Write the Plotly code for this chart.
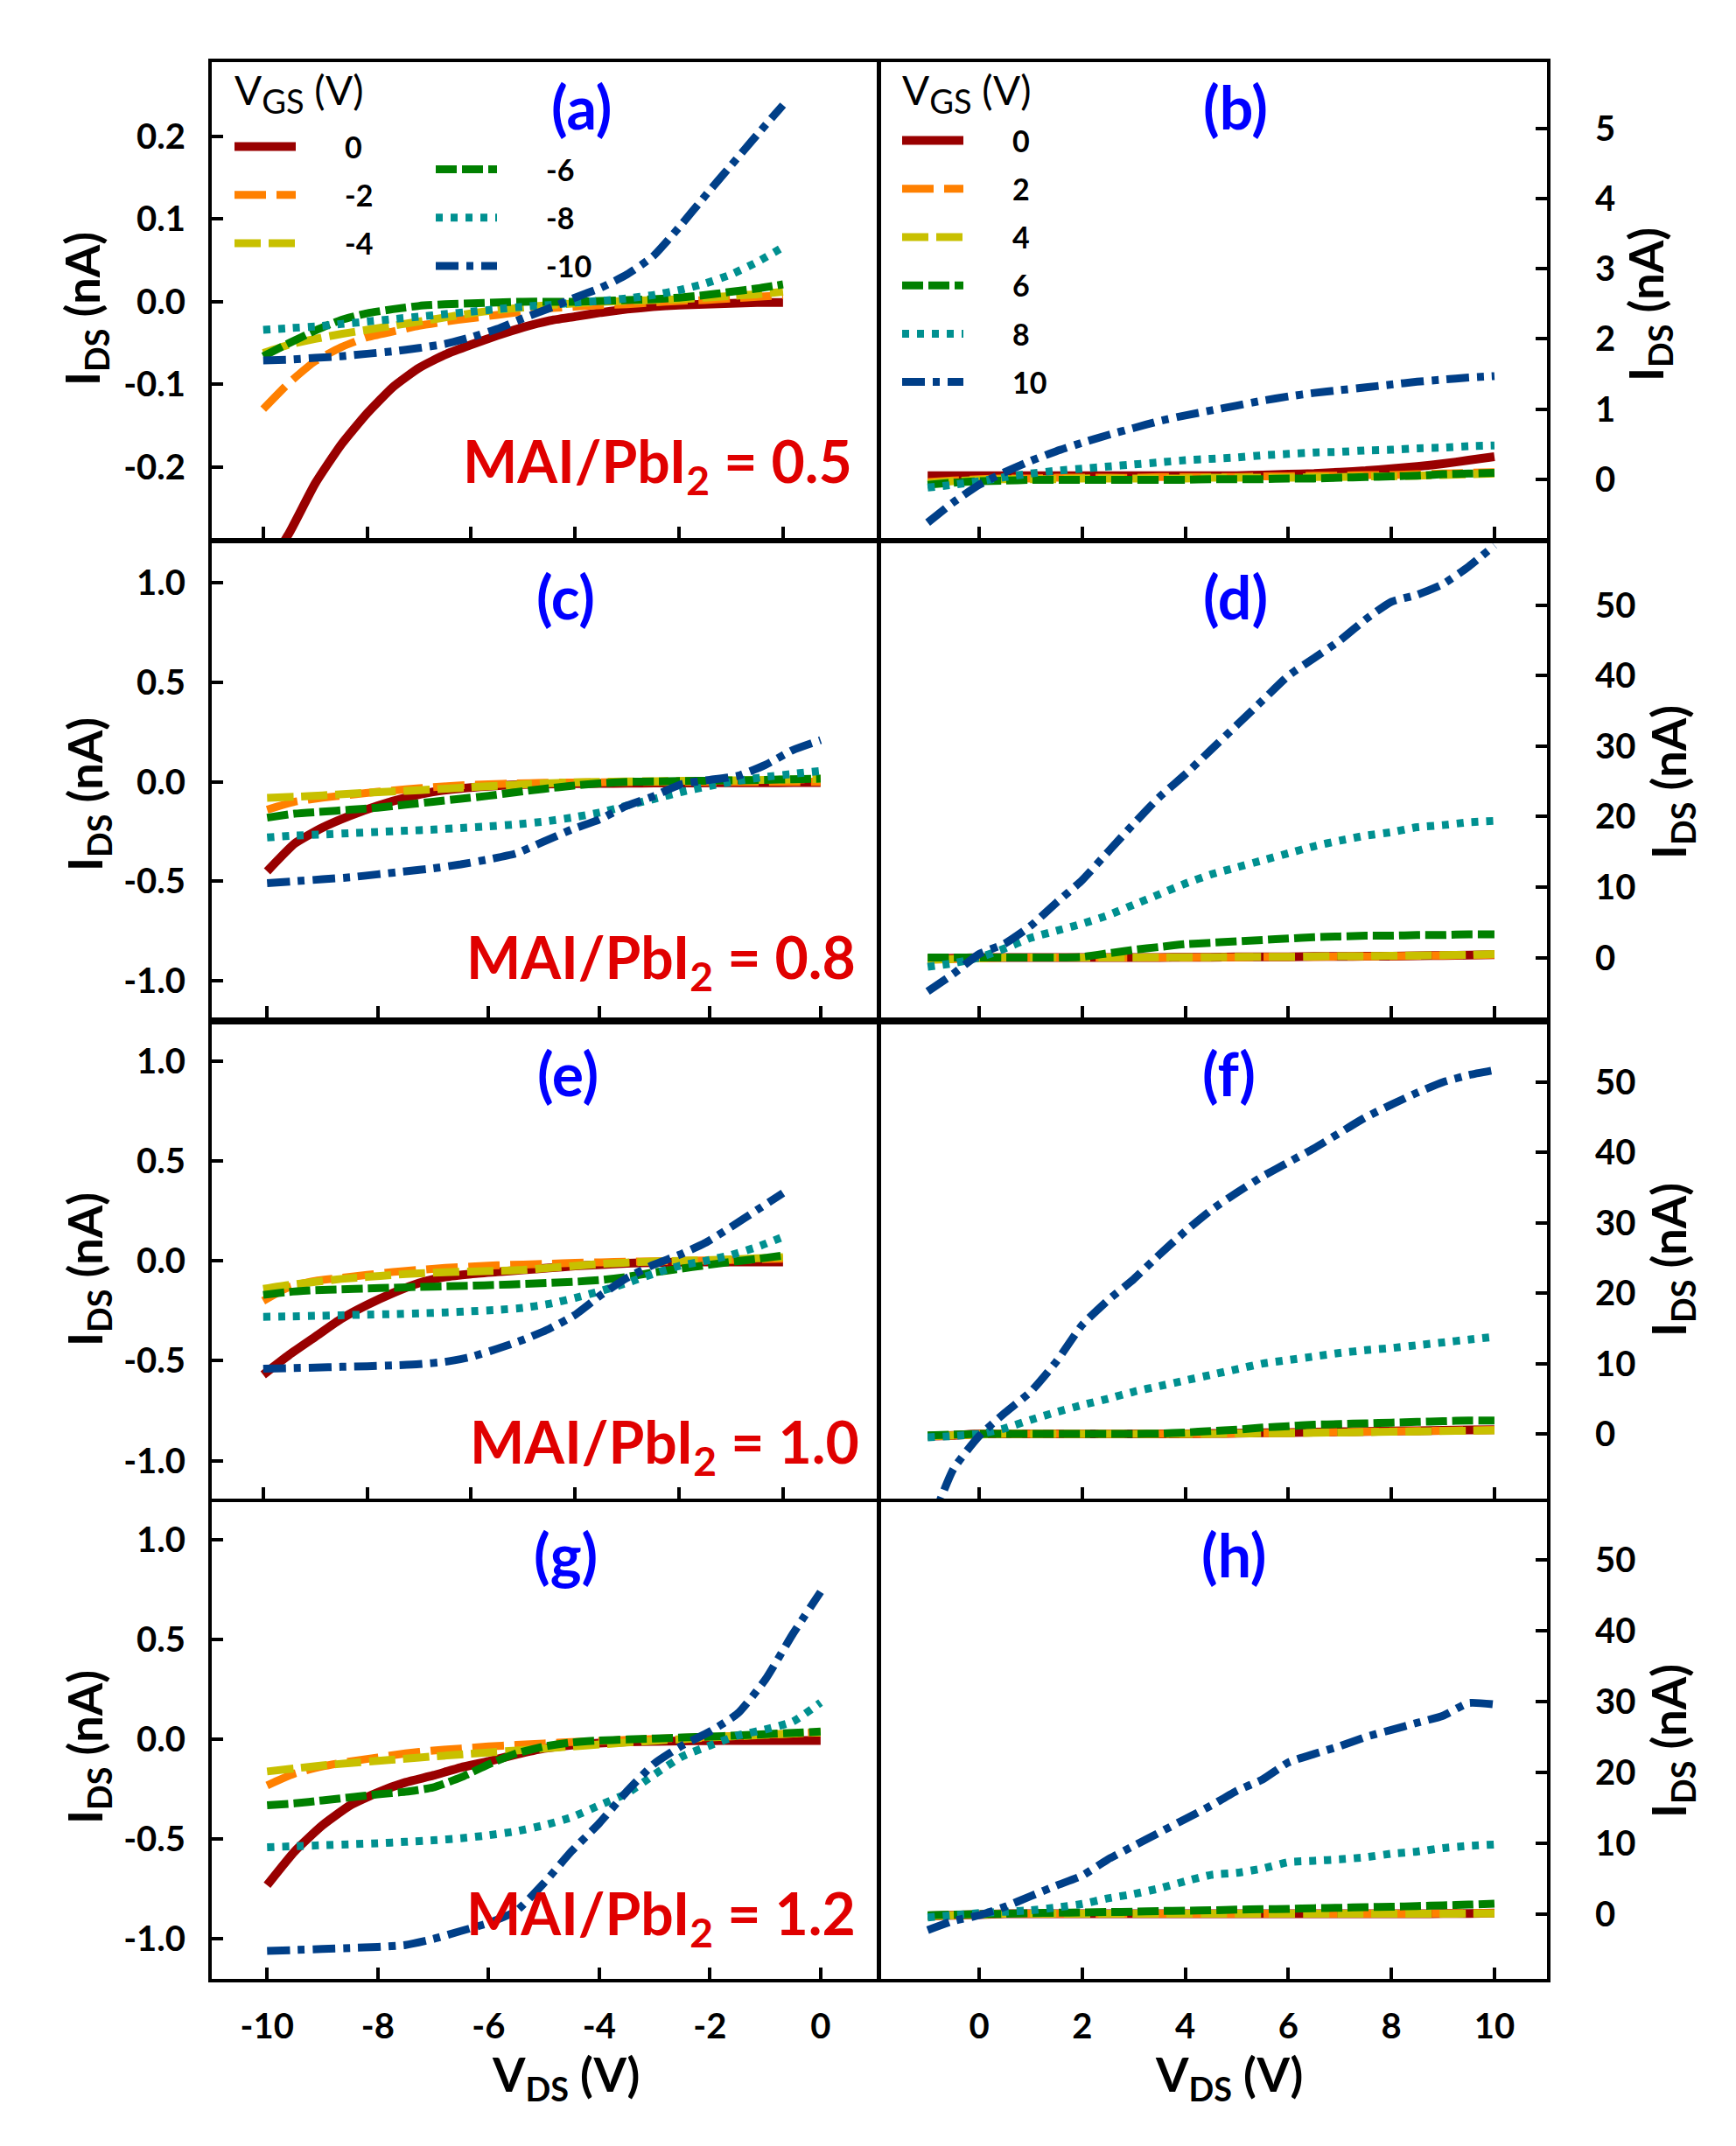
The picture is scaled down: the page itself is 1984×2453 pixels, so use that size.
import plotly.graph_objects as go

# ---------------- data ----------------
VDS_NEG = [-10.0, -9.5, -9.0, -8.5, -8.0, -7.5, -7.0, -6.5, -6.0, -5.5, -5.0,
           -4.5, -4.0, -3.5, -3.0, -2.5, -2.0, -1.5, -1.0, -0.5, 0.0]
VDS_POS = [-1.0, -0.5, 0.0, 0.5, 1.0, 1.5, 2.0, 2.5, 3.0, 3.5, 4.0, 4.5,
           5.0, 5.5, 6.0, 6.5, 7.0, 7.5, 8.0, 8.5, 9.0, 9.5, 10.0]

VGS_NEG_LABELS = ["0", "-2", "-4", "-6", "-8", "-10"]
VGS_POS_LABELS = ["0", "2", "4", "6", "8", "10"]

# (a) MAI/PbI2 = 0.5, negative bias
A_0 = [-0.33, -0.28, -0.22, -0.173, -0.135, -0.103, -0.08, -0.064, -0.052, -0.041, -0.031,
       -0.023, -0.018, -0.013, -0.009, -0.006, -0.004, -0.003, -0.002, -0.001, -0.001]
A_2 = [-0.13, -0.098, -0.072, -0.055, -0.043, -0.036, -0.029, -0.024, -0.02, -0.016, -0.012,
       -0.008, -0.006, -0.004, -0.003, -0.001, 0.001, 0.002, 0.004, 0.006, 0.008]
A_4 = [-0.062, -0.052, -0.045, -0.039, -0.034, -0.029, -0.024, -0.019, -0.014, -0.01, -0.007,
       -0.004, -0.002, 0.0, 0.001, 0.002, 0.003, 0.005, 0.007, 0.009, 0.012]
A_6 = [-0.066, -0.05, -0.035, -0.022, -0.014, -0.009, -0.005, -0.003, -0.002, -0.001, 0.0,
       0.0, 0.0, 0.001, 0.002, 0.003, 0.005, 0.008, 0.012, 0.016, 0.021]
A_8 = [-0.034, -0.032, -0.03, -0.027, -0.024, -0.021, -0.018, -0.015, -0.012, -0.009, -0.006,
       -0.004, -0.001, 0.001, 0.004, 0.008, 0.014, 0.022, 0.033, 0.048, 0.066]
A_10 = [-0.071, -0.07, -0.068, -0.066, -0.063, -0.06, -0.056, -0.051, -0.043, -0.033, -0.02,
        -0.008, 0.005, 0.017, 0.033, 0.055, 0.09, 0.128, 0.165, 0.202, 0.238]

# (b) MAI/PbI2 = 0.5, positive bias
B_0 = [0.05, 0.05, 0.05, 0.05, 0.05, 0.05, 0.05, 0.05, 0.05, 0.05, 0.05, 0.05,
       0.05, 0.06, 0.07, 0.08, 0.1, 0.12, 0.15, 0.18, 0.22, 0.27, 0.32]
B_2 = [-0.04, -0.02, 0.0, 0.01, 0.01, 0.02, 0.02, 0.02, 0.02, 0.03, 0.03, 0.03,
       0.03, 0.04, 0.04, 0.05, 0.05, 0.06, 0.06, 0.07, 0.08, 0.09, 0.1]
B_4 = [-0.06, -0.03, -0.01, 0.0, 0.0, 0.0, 0.01, 0.01, 0.01, 0.01, 0.01, 0.02,
       0.02, 0.02, 0.02, 0.03, 0.03, 0.04, 0.04, 0.05, 0.06, 0.07, 0.08]
B_6 = [-0.08, -0.05, -0.03, -0.02, -0.01, -0.01, -0.01, -0.01, -0.01, -0.01, -0.01, 0.0,
       0.0, 0.0, 0.01, 0.01, 0.02, 0.03, 0.04, 0.05, 0.07, 0.08, 0.09]
B_8 = [-0.12, -0.08, -0.03, 0.03, 0.08, 0.12, 0.15, 0.18, 0.21, 0.24, 0.27, 0.29,
       0.31, 0.34, 0.36, 0.38, 0.39, 0.41, 0.42, 0.44, 0.45, 0.47, 0.48]
B_10 = [-0.62, -0.33, -0.08, 0.1, 0.26, 0.4, 0.52, 0.63, 0.73, 0.83, 0.91, 0.98,
        1.05, 1.12, 1.18, 1.23, 1.27, 1.31, 1.35, 1.39, 1.42, 1.45, 1.47]

# (c) MAI/PbI2 = 0.8, negative bias
C_0 = [-0.45, -0.31, -0.23, -0.17, -0.12, -0.08, -0.05, -0.033, -0.022, -0.015, -0.011,
       -0.009, -0.008, -0.007, -0.006, -0.006, -0.005, -0.005, -0.005, -0.004, -0.004]
C_2 = [-0.14, -0.1, -0.08, -0.065, -0.05, -0.038, -0.027, -0.018, -0.012, -0.008, -0.005,
       -0.003, -0.002, -0.001, 0.0, 0.0, 0.0, 0.0, 0.0, 0.0, 0.0]
C_4 = [-0.08, -0.075, -0.068, -0.06, -0.052, -0.045, -0.038, -0.03, -0.022, -0.015, -0.008,
       -0.003, 0.0, 0.002, 0.003, 0.005, 0.006, 0.008, 0.01, 0.012, 0.015]
C_6 = [-0.18, -0.16, -0.15, -0.14, -0.13, -0.115, -0.1, -0.085, -0.07, -0.052, -0.035,
       -0.02, -0.008, 0.0, 0.002, 0.004, 0.006, 0.008, 0.01, 0.013, 0.016]
C_8 = [-0.28, -0.27, -0.265, -0.258, -0.252, -0.246, -0.24, -0.232, -0.224, -0.214, -0.2,
       -0.18, -0.155, -0.12, -0.085, -0.05, -0.02, 0.005, 0.025, 0.04, 0.055]
C_10 = [-0.51, -0.5, -0.49, -0.48, -0.465, -0.45, -0.435, -0.415, -0.39, -0.36, -0.3,
        -0.24, -0.19, -0.12, -0.07, -0.01, 0.01, 0.03, 0.085, 0.16, 0.21]

# (d) MAI/PbI2 = 0.8, positive bias
D_0 = [-0.2, -0.1, 0.0, 0.0, 0.0, 0.0, 0.0, 0.0, 0.0, 0.0, 0.05, 0.05,
       0.1, 0.1, 0.1, 0.15, 0.15, 0.2, 0.2, 0.25, 0.3, 0.35, 0.4]
D_2 = [-0.3, -0.2, -0.1, 0.0, 0.0, 0.0, 0.0, 0.0, 0.0, 0.0, 0.0, 0.05,
       0.05, 0.1, 0.1, 0.1, 0.15, 0.15, 0.2, 0.25, 0.3, 0.35, 0.4]
D_4 = [-0.3, -0.2, -0.1, 0.0, 0.0, 0.0, 0.0, 0.0, 0.0, 0.05, 0.05, 0.05,
       0.1, 0.1, 0.1, 0.15, 0.2, 0.2, 0.25, 0.3, 0.35, 0.4, 0.5]
D_6 = [0.0, 0.0, 0.0, 0.0, 0.0, 0.0, 0.1, 0.6, 1.1, 1.5, 1.9, 2.1,
       2.3, 2.5, 2.7, 2.9, 3.0, 3.1, 3.1, 3.2, 3.2, 3.3, 3.3]
D_8 = [-1.3, -0.8, 0.0, 1.3, 2.8, 3.8, 4.8, 6.0, 7.5, 9.0, 10.5, 11.8,
       12.8, 13.8, 14.8, 15.8, 16.6, 17.3, 17.8, 18.5, 18.8, 19.2, 19.4]
D_10 = [-4.8, -2.3, 0.5, 2.0, 4.5, 7.8, 11.0, 15.0, 19.0, 22.8, 26.0, 29.5,
        33.0, 36.5, 40.0, 42.5, 45.0, 48.0, 50.5, 51.5, 53.0, 55.5, 58.5]

# (e) MAI/PbI2 = 1.0, negative bias
E_0 = [-0.57, -0.47, -0.38, -0.29, -0.22, -0.16, -0.11, -0.08, -0.065, -0.055, -0.045,
       -0.035, -0.025, -0.018, -0.012, -0.008, -0.006, -0.005, -0.005, -0.005, -0.005]
E_2 = [-0.2, -0.13, -0.1, -0.085, -0.07, -0.055, -0.045, -0.035, -0.028, -0.022, -0.018,
       -0.014, -0.01, -0.007, -0.004, -0.002, 0.0, 0.002, 0.005, 0.008, 0.011]
E_4 = [-0.14, -0.12, -0.105, -0.09, -0.08, -0.07, -0.062, -0.057, -0.053, -0.05, -0.045,
       -0.035, -0.025, -0.015, -0.008, -0.003, 0.0, 0.004, 0.008, 0.013, 0.019]
E_6 = [-0.17, -0.155, -0.146, -0.142, -0.138, -0.134, -0.13, -0.127, -0.124, -0.12, -0.115,
       -0.11, -0.104, -0.095, -0.08, -0.058, -0.04, -0.022, -0.005, 0.01, 0.027]
E_8 = [-0.28, -0.278, -0.275, -0.272, -0.269, -0.266, -0.262, -0.258, -0.252, -0.245, -0.235,
       -0.215, -0.185, -0.15, -0.11, -0.065, -0.025, 0.0, 0.03, 0.07, 0.12]
E_10 = [-0.54, -0.537, -0.534, -0.53, -0.527, -0.523, -0.517, -0.505, -0.48, -0.44, -0.395,
        -0.34, -0.27, -0.17, -0.085, -0.02, 0.03, 0.09, 0.17, 0.255, 0.34]

# (f) MAI/PbI2 = 1.0, positive bias
F_0 = [-0.3, -0.2, 0.0, 0.0, 0.0, 0.0, 0.0, 0.0, 0.0, 0.0, 0.0, 0.05,
       0.1, 0.15, 0.2, 0.25, 0.3, 0.35, 0.4, 0.45, 0.5, 0.55, 0.6]
F_2 = [-0.3, -0.2, 0.0, 0.0, 0.0, 0.0, 0.0, 0.0, 0.0, 0.0, 0.0, 0.0,
       0.05, 0.1, 0.15, 0.2, 0.25, 0.3, 0.35, 0.4, 0.45, 0.5, 0.55]
F_4 = [-0.3, -0.2, -0.1, 0.0, 0.0, 0.0, 0.0, 0.0, 0.0, 0.0, 0.0, 0.0,
       0.05, 0.1, 0.1, 0.15, 0.2, 0.25, 0.3, 0.35, 0.4, 0.45, 0.5]
F_6 = [-0.2, -0.1, 0.0, 0.0, 0.0, 0.0, 0.0, 0.0, 0.0, 0.05, 0.2, 0.4,
       0.6, 0.9, 1.1, 1.3, 1.4, 1.5, 1.6, 1.7, 1.8, 1.9, 1.9]
F_8 = [-0.5, -0.3, 0.0, 0.8, 2.0, 3.1, 4.1, 5.0, 6.0, 6.8, 7.6, 8.4,
       9.2, 10.0, 10.5, 11.0, 11.5, 11.9, 12.2, 12.6, 13.0, 13.4, 13.8]
F_10 = [-14.0, -5.0, -0.3, 3.0, 6.0, 10.3, 15.5, 19.0, 22.0, 25.5, 28.8, 31.8,
        34.3, 36.6, 38.6, 40.6, 42.8, 45.0, 46.8, 48.5, 50.0, 51.0, 51.7]

# (g) MAI/PbI2 = 1.2, negative bias
G_0 = [-0.73, -0.56, -0.43, -0.33, -0.265, -0.215, -0.18, -0.14, -0.11, -0.075, -0.045,
       -0.028, -0.018, -0.012, -0.009, -0.007, -0.006, -0.005, -0.005, -0.005, -0.005]
G_2 = [-0.23, -0.17, -0.135, -0.11, -0.09, -0.07, -0.055, -0.045, -0.035, -0.027, -0.02,
       -0.013, -0.007, -0.002, 0.003, 0.008, 0.013, 0.018, 0.024, 0.03, 0.036]
G_4 = [-0.16, -0.145, -0.13, -0.118, -0.107, -0.096, -0.085, -0.075, -0.065, -0.055, -0.045,
       -0.035, -0.025, -0.015, -0.006, 0.002, 0.01, 0.017, 0.024, 0.03, 0.036]
G_6 = [-0.33, -0.32, -0.305, -0.29, -0.275, -0.262, -0.24, -0.19, -0.125, -0.07, -0.035,
       -0.015, -0.005, 0.0, 0.005, 0.01, 0.015, 0.02, 0.027, 0.033, 0.04]
G_8 = [-0.54, -0.535, -0.53, -0.525, -0.52, -0.513, -0.505, -0.495, -0.48, -0.46, -0.43,
       -0.39, -0.33, -0.27, -0.175, -0.085, -0.03, 0.02, 0.05, 0.09, 0.185]
G_10 = [-1.06, -1.055, -1.05, -1.045, -1.04, -1.03, -1.0, -0.96, -0.92, -0.86, -0.72,
        -0.56, -0.42, -0.26, -0.12, -0.03, 0.04, 0.13, 0.3, 0.53, 0.74]

# (h) MAI/PbI2 = 1.2, positive bias
H_0 = [-0.3, -0.2, -0.1, 0.0, 0.0, 0.0, 0.0, 0.0, 0.0, 0.0, 0.0, 0.0,
       0.0, 0.0, 0.0, 0.0, 0.0, 0.0, 0.0, 0.0, 0.05, 0.05, 0.1]
H_2 = [-0.3, -0.2, -0.1, 0.0, 0.0, 0.0, 0.0, 0.0, 0.0, 0.0, 0.0, 0.0,
       0.0, 0.0, 0.0, 0.0, 0.0, 0.0, 0.0, 0.05, 0.05, 0.1, 0.1]
H_4 = [-0.3, -0.2, -0.1, 0.0, 0.0, 0.0, 0.0, 0.0, 0.0, 0.0, 0.0, 0.0,
       0.0, 0.0, 0.0, 0.0, 0.0, 0.0, 0.0, 0.0, 0.0, 0.05, 0.05]
H_6 = [-0.2, -0.1, -0.05, 0.0, 0.1, 0.15, 0.2, 0.25, 0.3, 0.4, 0.45, 0.5,
       0.6, 0.65, 0.7, 0.8, 0.85, 0.95, 1.0, 1.1, 1.2, 1.3, 1.45]
H_8 = [-0.5, -0.2, 0.1, 0.3, 0.5, 0.9, 1.4, 2.2, 2.8, 3.6, 4.6, 5.5,
       5.8, 6.4, 7.3, 7.5, 7.7, 8.0, 8.5, 8.8, 9.3, 9.6, 9.8]
H_10 = [-2.3, -1.0, -0.2, 1.0, 2.5, 4.0, 5.4, 7.7, 9.6, 11.5, 13.4, 15.3,
        17.4, 19.0, 21.4, 22.6, 23.7, 25.0, 26.0, 27.0, 28.0, 29.8, 29.6]

# tick labels
XT_NEG_VALS = [-10, -8, -6, -4, -2, 0]
XT_NEG_TEXT = ["-10", "-8", "-6", "-4", "-2", "0"]
XT_POS_VALS = [0, 2, 4, 6, 8, 10]
XT_POS_TEXT = ["0", "2", "4", "6", "8", "10"]
YT_A_VALS = [-0.2, -0.1, 0.0, 0.1, 0.2]
YT_A_TEXT = ["-0.2", "-0.1", "0.0", "0.1", "0.2"]
YT_B_VALS = [0, 1, 2, 3, 4, 5]
YT_B_TEXT = ["0", "1", "2", "3", "4", "5"]
YT_L_VALS = [-1.0, -0.5, 0.0, 0.5, 1.0]
YT_L_TEXT = ["-1.0", "-0.5", "0.0", "0.5", "1.0"]
YT_R_VALS = [0, 10, 20, 30, 40, 50]
YT_R_TEXT = ["0", "10", "20", "30", "40", "50"]

PANEL_LETTERS = ["(a)", "(b)", "(c)", "(d)", "(e)", "(f)", "(g)", "(h)"]
RATIO_TEXT = ["MAI/PbI<sub>2</sub> = 0.5", "MAI/PbI<sub>2</sub> = 0.8",
              "MAI/PbI<sub>2</sub> = 1.0", "MAI/PbI<sub>2</sub> = 1.2"]
LEGEND_TITLE = "V<sub><span style='font-size:38px'>GS</span></sub> (V)"
Y_TITLE = "I<sub>DS</sub> (nA)"
X_TITLE = "V<sub>DS</sub> (V)"

# ---------------- styling / layout ----------------
W, H = 1984, 2453
FONT = "Lato, 'Open Sans', 'DejaVu Sans', sans-serif"
COLORS = ["#990000", "#FF8000", "#C8C000", "#008000", "#009090", "#003F88"]
DASHES = ["solid", "36px,12px", "30px,9px", "24px,6px", "8px,9px", "26px,9px,8px,9px"]
WIDTHS = [10, 9, 9, 9, 9, 9]


def fx(p):
    return p / W


def fy(p):
    return 1 - p / H


COL_X = [(234, 995), (998, 1760)]
ROW_Y = [(63, 607), (613, 1155), (1163, 1705), (1709, 2254)]
X_RANGES = [[-10.99, 1.82], [-1.92, 11.02], [-11.0, 1.03], [-1.92, 11.02],
            [-10.99, 1.82], [-1.92, 11.02], [-11.0, 1.03], [-1.92, 11.02]]
Y_RANGES = [[-0.286, 0.29], [-0.84, 5.95], [-1.185, 1.2], [-8.5, 58.8],
            [-1.19, 1.184], [-9.2, 58.2], [-1.2, 1.19], [-9.2, 58.2]]

panel_series = [
    (VDS_NEG, [A_0, A_2, A_4, A_6, A_8, A_10], VGS_NEG_LABELS),
    (VDS_POS, [B_0, B_2, B_4, B_6, B_8, B_10], VGS_POS_LABELS),
    (VDS_NEG, [C_0, C_2, C_4, C_6, C_8, C_10], VGS_NEG_LABELS),
    (VDS_POS, [D_0, D_2, D_4, D_6, D_8, D_10], VGS_POS_LABELS),
    (VDS_NEG, [E_0, E_2, E_4, E_6, E_8, E_10], VGS_NEG_LABELS),
    (VDS_POS, [F_0, F_2, F_4, F_6, F_8, F_10], VGS_POS_LABELS),
    (VDS_NEG, [G_0, G_2, G_4, G_6, G_8, G_10], VGS_NEG_LABELS),
    (VDS_POS, [H_0, H_2, H_4, H_6, H_8, H_10], VGS_POS_LABELS),
]

fig = go.Figure()
PAD = "\u2002\u2002\u2002"

for p, (xs, series, labels) in enumerate(panel_series):
    ax = "" if p == 0 else str(p + 1)
    for k, ys in enumerate(series):
        show = False
        legend = "legend"
        if p == 0:
            show = True
            legend = "legend" if k < 3 else "legend2"
        elif p == 1:
            show = True
            legend = "legend3"
        fig.add_trace(go.Scatter(
            x=xs, y=ys, mode="lines", name=PAD + labels[k],
            line=dict(color=COLORS[k], width=WIDTHS[k], dash=DASHES[k],
                      shape="spline", smoothing=0.5),
            xaxis="x" + ax, yaxis="y" + ax,
            showlegend=show, legend=legend, legendgroup="p%d_%d" % (p, k),
        ))

tick_font = dict(family=FONT, size=40, color="black", weight="bold")
layout = dict(
    width=W, height=H, paper_bgcolor="white", plot_bgcolor="white",
    margin=dict(l=0, r=0, t=0, b=0), font=dict(family=FONT),
)

for p in range(8):
    col = p % 2
    row = p // 2
    ax = "" if p == 0 else str(p + 1)
    x0, x1 = COL_X[col]
    y0, y1 = ROW_Y[row]
    if col == 0:
        xtv, xtt = XT_NEG_VALS, XT_NEG_TEXT
    else:
        xtv, xtt = XT_POS_VALS, XT_POS_TEXT
    if p == 0:
        ytv, ytt = YT_A_VALS, YT_A_TEXT
    elif p == 1:
        ytv, ytt = YT_B_VALS, YT_B_TEXT
    elif col == 0:
        ytv, ytt = YT_L_VALS, YT_L_TEXT
    else:
        ytv, ytt = YT_R_VALS, YT_R_TEXT
    common = dict(showline=True, linecolor="black", linewidth=4, mirror=True,
                  ticks="inside", ticklen=13, tickwidth=4, tickcolor="black",
                  showgrid=False, zeroline=False, tickfont=tick_font)
    layout["xaxis" + ax] = dict(
        domain=[fx(x0), fx(x1)], range=X_RANGES[p], anchor="y" + ax,
        tickmode="array", tickvals=xtv, ticktext=xtt,
        showticklabels=(row == 3), ticklabelstandoff=16, **common)
    layout["yaxis" + ax] = dict(
        domain=[fy(y1), fy(y0)], range=Y_RANGES[p], anchor="x" + ax,
        side="left" if col == 0 else "right",
        tickmode="array", tickvals=ytv, ticktext=ytt,
        ticklabelstandoff=18 if col == 0 else 43, **common)

annotations = []
# panel letters
LETTER_POS = [(656, 113), (1404, 113), (638, 673), (1404, 673),
              (641, 1218), (1396, 1218), (638, 1768), (1402, 1768)]
for p, (lx, ly) in enumerate(LETTER_POS):
    annotations.append(dict(
        text=PANEL_LETTERS[p], xref="paper", yref="paper", x=fx(lx), y=fy(ly),
        xanchor="center", yanchor="middle", showarrow=False,
        font=dict(family=FONT, size=68, color="#0000FF", weight="bold")))
# ratio labels
RATIO_POS = [(968, 523), (972, 1090), (976, 1644), (972, 2183)]
for r, (rx, ry) in enumerate(RATIO_POS):
    annotations.append(dict(
        text=RATIO_TEXT[r], xref="paper", yref="paper", x=fx(rx), y=fy(ry),
        xanchor="right", yanchor="middle", showarrow=False,
        font=dict(family=FONT, size=66, color="#E00000", weight="bold")))
# legend titles
for (tx, ty) in [(258, 98), (1021, 98)]:
    annotations.append(dict(
        text=LEGEND_TITLE, xref="paper", yref="paper", x=fx(tx), y=fy(ty),
        xanchor="left", yanchor="middle", showarrow=False,
        font=dict(family=FONT, size=46, color="black")))
# axis titles
YT_LEFT = [(89, 345), (92, 900), (92, 1443), (92, 1989)]
YT_RIGHT = [(1876, 340), (1902, 886), (1902, 1432), (1902, 1982)]
for (tx, ty) in YT_LEFT + YT_RIGHT:
    annotations.append(dict(
        text=Y_TITLE, xref="paper", yref="paper", x=fx(tx), y=fy(ty),
        xanchor="center", yanchor="middle", textangle=-90, showarrow=False,
        font=dict(family=FONT, size=54, color="black", weight="bold")))
for tx in (638, 1396):
    annotations.append(dict(
        text=X_TITLE, xref="paper", yref="paper", x=fx(tx), y=fy(2366),
        xanchor="center", yanchor="middle", showarrow=False,
        font=dict(family=FONT, size=54, color="black", weight="bold")))
layout["annotations"] = annotations

leg_common = dict(bgcolor="rgba(0,0,0,0)", borderwidth=0, xanchor="left", yanchor="top",
                  itemwidth=70, tracegroupgap=8, traceorder="grouped",
                  font=dict(family=FONT, size=34, color="black", weight="bold"))
layout["legend"] = dict(x=fx(255), y=fy(131), **leg_common)
layout["legend2"] = dict(x=fx(485), y=fy(157), **leg_common)
layout["legend3"] = dict(x=fx(1018), y=fy(124), **leg_common)

fig.update_layout(**layout)
fig.write_html("out.html")
